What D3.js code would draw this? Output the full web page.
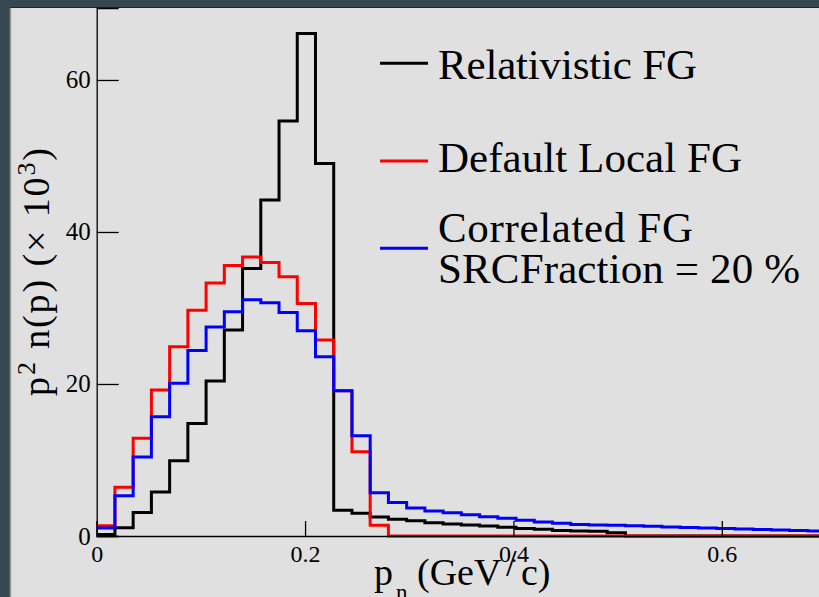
<!DOCTYPE html>
<html lang="en">
<head>
  <meta charset="UTF-8">
  <title>p2 n(p) momentum distributions</title>
  <script src="https://d3js.org/d3.v7.min.js"></script>
  <style>
    body {
      margin: 0;
      background: #37474f;
    }

    svg {
      display: block;
    }

    text {
      font-family: 'Liberation Serif', 'Times New Roman', serif;
      fill: #000;
    }

    .axis path,
    .axis line {
      stroke: #000;
      stroke-width: 1.3px;
    }

    .hist {
      fill: none;
      stroke-width: 3px;
    }
  </style>
</head>
<body>

<svg width="819" height="597"></svg>

<script>
const serif = "'Liberation Serif', 'Times New Roman', serif";

// histogram binning: 40 bins from 0 to 0.7 GeV/c
const nBins = 40;
const xMax = 0.7;

// bin contents (x 10^3)
const relativisticFG = [
  0.2, 1.1, 3.1, 5.8, 9.9, 14.8, 20.4, 27.1, 35.2, 44.2,
  54.6, 66.1, 49.0, 3.4, 3.0, 2.5, 2.2, 2.0, 1.75, 1.58,
  1.45, 1.3, 1.14, 1.0, 0.88, 0.72, 0.65, 0.62, 0.42, 0,
  0, 0, 0, 0, 0, 0, 0, 0, 0, 0
];
const defaultLocalFG = [
  1.35, 6.4, 12.85, 19.2, 24.9, 29.7, 33.3, 35.6, 36.7, 36.0,
  34.1, 30.6, 25.8, 19.1, 11.1, 1.4, 0, 0, 0, 0,
  0, 0, 0, 0, 0, 0, 0, 0, 0, 0,
  0, 0, 0, 0, 0, 0, 0, 0, 0, 0
];
const correlatedFG = [
  1.05, 5.3, 10.4, 15.7, 20.1, 24.4, 27.5, 29.5, 31.1, 30.7,
  29.4, 27.0, 23.6, 19.1, 13.2, 5.7, 4.4, 3.7, 3.3, 3.07,
  2.8, 2.54, 2.32, 2.06, 1.84, 1.67, 1.52, 1.45, 1.4, 1.35,
  1.28, 1.2, 1.13, 1.06, 0.99, 0.92, 0.85, 0.79, 0.72, 0.66
];

const yTicks = [0, 20, 40, 60];
const xTicks = [0, 0.2, 0.4, 0.6];
const xTickLabels = ["0", "0.2", "0.4", "0.6"];

const legendNames = ["Relativistic FG", "Default Local FG", "Correlated FG"];
const seriesColors = ["#000000", "#ff0000", "#0000ff"];

const svg = d3.select("svg");

// canvas: dark frame with the light pad inside
svg.append("rect")
  .attr("width", 819).attr("height", 597)
  .attr("fill", "#37474f");
svg.append("rect")
  .attr("x", 10).attr("y", 8)
  .attr("width", 809).attr("height", 589)
  .attr("fill", "#e0e0e0");
svg.append("line")
  .attr("x1", 10.5).attr("x2", 10.5).attr("y1", 8).attr("y2", 597)
  .attr("stroke", "#9a9a9a").attr("stroke-width", 1.5);
svg.append("line")
  .attr("x1", 10).attr("x2", 819).attr("y1", 7.5).attr("y2", 7.5)
  .attr("stroke", "#1e2428").attr("stroke-width", 1);

const plot = { left: 96.7, right: 826, top: 8, bottom: 536 };

const x = d3.scaleLinear().domain([0, xMax]).range([plot.left, plot.right]);
const y = d3.scaleLinear().domain([0, 69.47]).range([plot.bottom, plot.top]);

const binWidth = xMax / nBins;

function histPoints(values) {
  const pts = values.map((v, i) => [i * binWidth, v]);
  pts.push([nBins * binWidth, values[values.length - 1]]);
  return pts;
}

const line = d3.line()
  .x(d => x(d[0]))
  .y(d => y(d[1]))
  .curve(d3.curveStepAfter);

const gHist = svg.append("g");
[relativisticFG, defaultLocalFG, correlatedFG].forEach((vals, i) => {
  gHist.append("path")
    .attr("class", "hist")
    .attr("stroke", seriesColors[i])
    .attr("d", line(histPoints(vals)));
});

// axes
const yAxis = d3.axisLeft(y)
  .tickValues(yTicks)
  .tickSize(-22)
  .tickPadding(6)
  .tickFormat(d3.format("d"));

svg.append("g")
  .attr("class", "axis")
  .attr("transform", `translate(${plot.left},0)`)
  .call(yAxis)
  .call(g => g.selectAll("text").attr("font-size", 25).attr("font-family", serif));

const xAxis = d3.axisBottom(x)
  .tickValues(xTicks)
  .tickSize(-15)
  .tickPadding(9)
  .tickFormat((d, i) => xTickLabels[i]);

svg.append("g")
  .attr("class", "axis")
  .attr("transform", `translate(0,${plot.bottom})`)
  .call(xAxis)
  .call(g => g.selectAll("text").attr("font-size", 24).attr("font-family", serif));

// x axis title: p_n (GeV/c), pieces placed like the TLatex output
const gXTitle = svg.append("g").attr("font-family", serif);
gXTitle.append("text").attr("x", 374).attr("y", 585).attr("font-size", 38).text("p");
gXTitle.append("text").attr("x", 396).attr("y", 600).attr("font-size", 23).text("n");
gXTitle.append("text").attr("x", 417).attr("y", 585).attr("font-size", 38).text("(GeV");
gXTitle.append("text").attr("x", 506).attr("y", 576).attr("font-size", 38).text("/");
gXTitle.append("text").attr("x", 521).attr("y", 585).attr("font-size", 38).text("c)");

// y axis title: p^2 n(p) (x 10^3)
const yTitle = svg.append("text")
  .attr("transform", "translate(49,272) rotate(-90)")
  .attr("text-anchor", "middle")
  .attr("font-family", serif)
  .attr("font-size", 38)
  .attr("textLength", 248)
  .attr("lengthAdjust", "spacing");
yTitle.append("tspan").text("p");
yTitle.append("tspan").attr("dy", -14).attr("font-size", 26).text("2");
yTitle.append("tspan").attr("dy", 14).text(" n(p) (\u00d7 10");
yTitle.append("tspan").attr("dy", -14).attr("font-size", 26).text("3");
yTitle.append("tspan").attr("dy", 14).text(")");

// legend
const legendRows = [
  { marker: 63.3, lines: [{ text: legendNames[0], base: 79.3, len: 259 }] },
  { marker: 161, lines: [{ text: legendNames[1], base: 171.7, len: 304 }] },
  { marker: 248.3, lines: [
      { text: legendNames[2], base: 241.7, len: 255 },
      { text: "SRCFraction = 20 %", base: 283.3, len: 362 }
    ] }
];

const gLegend = svg.append("g");
legendRows.forEach((row, i) => {
  gLegend.append("line")
    .attr("x1", 380).attr("x2", 428)
    .attr("y1", row.marker).attr("y2", row.marker)
    .attr("stroke", seriesColors[i])
    .attr("stroke-width", 3);
  row.lines.forEach(l => {
    gLegend.append("text")
      .attr("x", 438)
      .attr("y", l.base)
      .attr("font-family", serif)
      .attr("font-size", 43)
      .attr("textLength", l.len)
      .attr("lengthAdjust", "spacing")
      .text(l.text);
  });
});
</script>

</body>
</html>
